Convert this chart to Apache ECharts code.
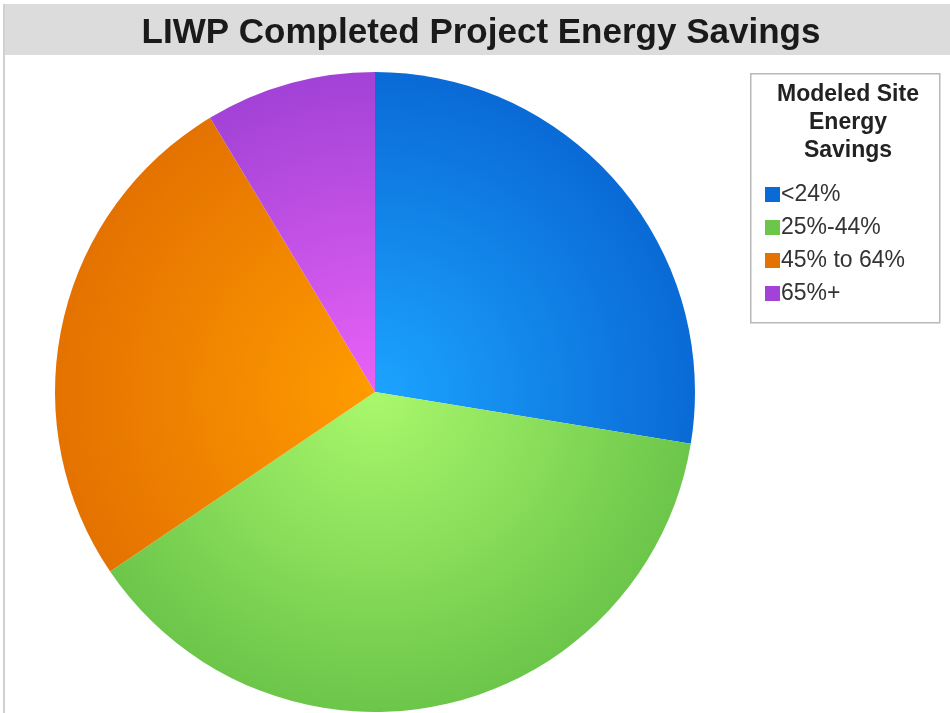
<!DOCTYPE html>
<html>
<head>
<meta charset="utf-8">
<script src="https://cdn.jsdelivr.net/npm/echarts@6/dist/echarts.min.js"></script>
<style>
    html, body { margin: 0; padding: 0; background: #fff; }
    #main { width: 950px; height: 713px; }
</style>
</head>
<body>
<div id="main"></div>
<script>
// data
var categories = ["<24%", "25%-44%", "45% to 64%", "65%+"];
var projectCounts = [16, 22, 15, 5];
var innerColors = ["#1ca4ff", "#aaf86c", "#ff9c00", "#e962f7"];
var outerColors = ["#0a6ad6", "#6cc64a", "#e47200", "#a242d6"];

var CX = 375, CY = 392, R = 320;

function sliceGradient(i) {
    return {
        type: "radial",
        x: CX, y: CY, r: R,
        global: true,
        colorStops: [
            { offset: 0, color: innerColors[i] },
            { offset: 1, color: outerColors[i] }
        ]
    };
}

var pieData = categories.map(function (name, i) {
    return {
        name: name,
        value: projectCounts[i],
        itemStyle: { color: sliceGradient(i) }
    };
});

var chart = echarts.init(document.getElementById("main"));
chart.setOption({
    animation: false,
    graphic: [
        // title band
        { type: "rect", left: 3, top: 4, shape: { width: 947, height: 51 }, style: { fill: "#dcdcdc" }, z: 0 },
        // left frame line
        { type: "rect", left: 3, top: 4, shape: { width: 2, height: 709 }, style: { fill: "#d0d0d0" }, z: 0 },
        // legend box
        { type: "rect", left: 750, top: 73, shape: { width: 189, height: 249 }, style: { fill: "#fff", stroke: "#b8b8b8", lineWidth: 1.5 }, z: 0 }
    ],
    title: [
        {
            text: "LIWP Completed Project Energy Savings",
            left: 476, top: 11, textAlign: "center",
            textStyle: { fontFamily: "Liberation Sans, Arial", fontSize: 35, fontWeight: "bold", color: "#1a1a1a" }
        },
        {
            text: "Modeled Site\nEnergy\nSavings",
            left: 843, top: 76, textAlign: "center",
            textStyle: { fontFamily: "Liberation Sans, Arial", fontSize: 23, fontWeight: "bold", color: "#222", lineHeight: 28 }
        }
    ],
    legend: {
        orient: "vertical",
        left: 760, top: 178,
        itemWidth: 15, itemHeight: 15, itemGap: 10,
        icon: "rect",
        data: categories.map(function (name, i) {
            return { name: name, itemStyle: { color: outerColors[i] } };
        }),
        textStyle: { fontFamily: "Liberation Sans, Arial", fontSize: 23, color: "#333", padding: [0, 0, 0, -4] }
    },
    series: [
        {
            type: "pie",
            center: [CX, CY],
            radius: R,
            startAngle: 90,
            clockwise: true,
            label: { show: false },
            labelLine: { show: false },
            emphasis: { disabled: true },
            itemStyle: { borderWidth: 0 },
            data: pieData
        }
    ]
});
</script>
</body>
</html>
